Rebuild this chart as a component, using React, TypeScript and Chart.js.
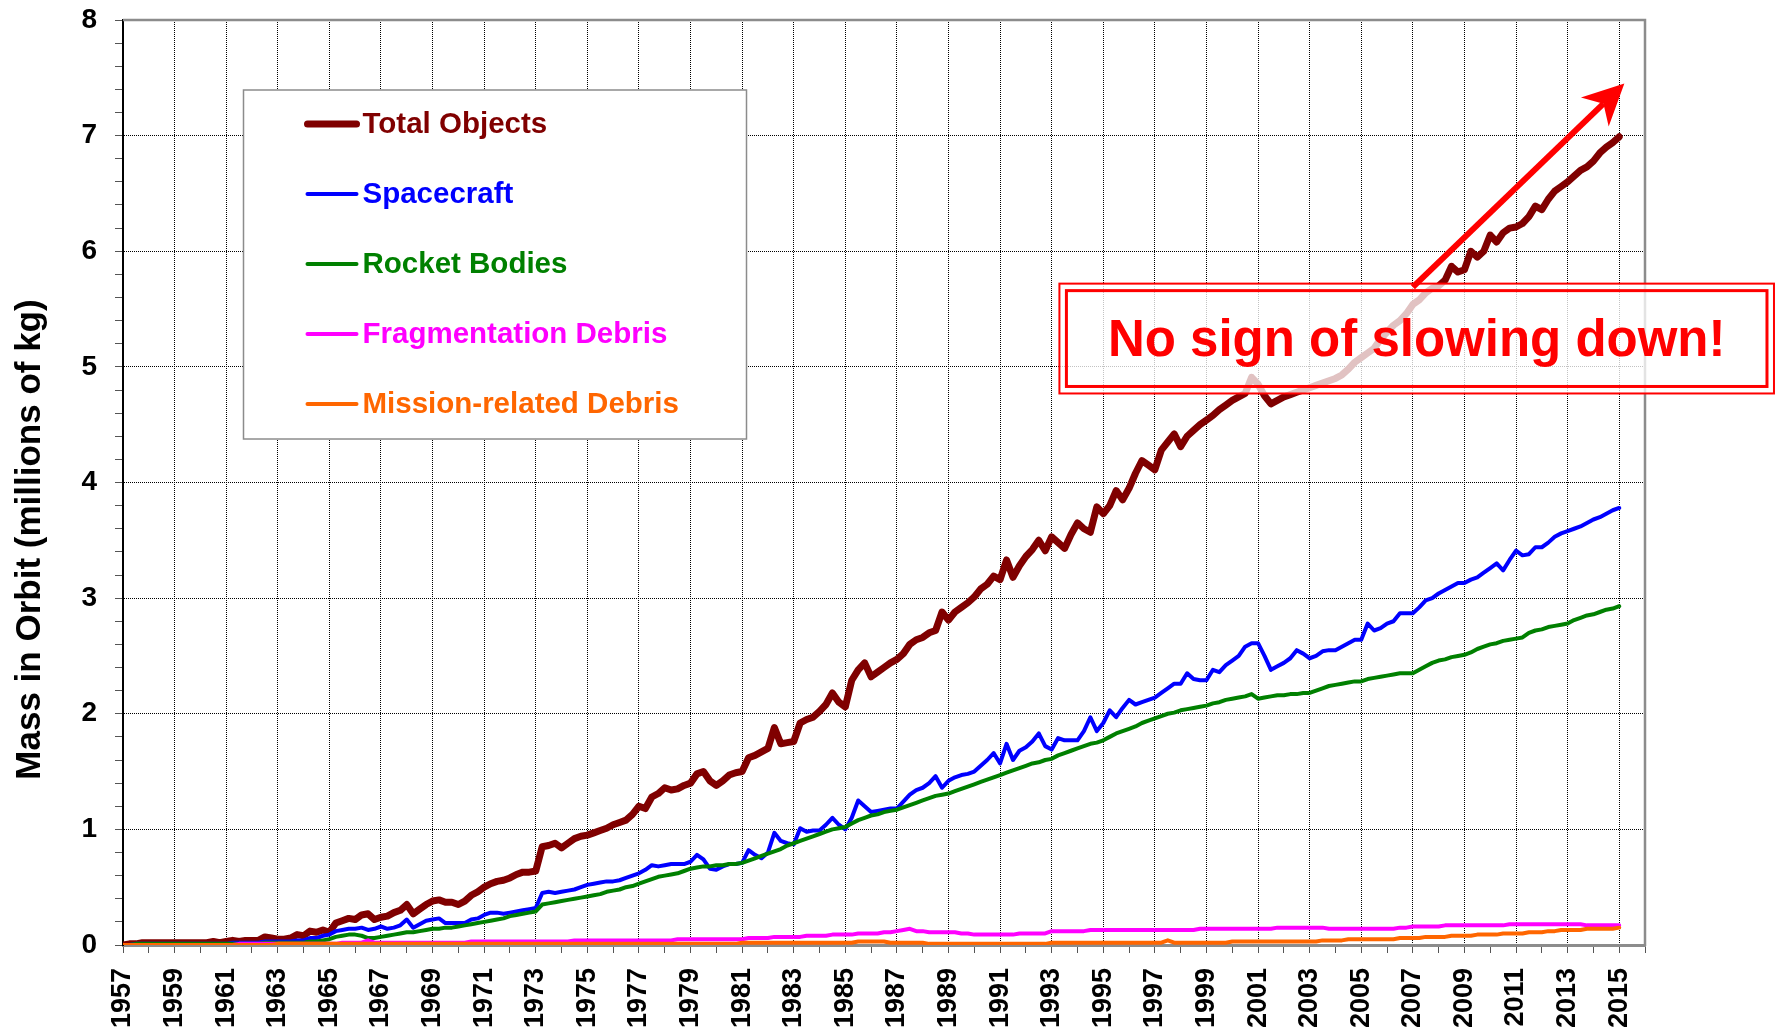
import React, { useEffect, useRef } from 'react';
import { Chart, registerables } from 'chart.js';

Chart.register(...registerables);

const FONT = "'Liberation Sans', Arial, Helvetica, sans-serif";

// Time grid: quarterly samples from 1957.00 to 2015.00
const START_YEAR = 1957;
const SAMPLES_PER_YEAR = 4;
const X_MIN = 1957;
const X_MAX = 2016;
const Y_MIN = 0;
const Y_MAX = 8;

const seriesLabels = ['Total Objects', 'Spacecraft', 'Rocket Bodies', 'Fragmentation Debris', 'Mission-related Debris'];
const seriesColors = ['#800000', '#0000FF', '#008000', '#FF00FF', '#FF6600'];
const seriesWidths = [7, 4, 4, 4, 4];

const yAxisTitle = 'Mass in Orbit (millions of kg)';
const noteText = 'No sign of slowing down!';
// annotation box and arrow, in data units (year, millions of kg)
const noteBox = { xFrom: 1993.3, xTo: 2021.0, yFrom: 4.77, yTo: 5.72 };
const noteArrow = { xFrom: 2007.0, yFrom: 5.69, xTo: 2015.2, yTo: 7.45 };

// millions of kg, quarterly 1957.00 .. 2015.00
const totalObjects = [
  0.00, 0.01, 0.01, 0.02,
  0.02, 0.02, 0.02, 0.02,
  0.02, 0.02, 0.02, 0.02,
  0.02, 0.02, 0.03, 0.02,
  0.03, 0.04, 0.03, 0.04,
  0.04, 0.04, 0.07, 0.06,
  0.05, 0.05, 0.06, 0.09,
  0.08, 0.12, 0.11, 0.13,
  0.11, 0.19, 0.21, 0.23,
  0.22, 0.26, 0.27, 0.22,
  0.24, 0.25, 0.28, 0.30,
  0.35, 0.27, 0.31, 0.35,
  0.38, 0.39, 0.37, 0.37,
  0.35, 0.38, 0.43, 0.46,
  0.50, 0.53, 0.55, 0.56,
  0.58, 0.61, 0.63, 0.63,
  0.64, 0.85, 0.86, 0.88,
  0.84, 0.88, 0.92, 0.94,
  0.95, 0.97, 0.99, 1.01,
  1.04, 1.06, 1.08, 1.13,
  1.20, 1.18, 1.28, 1.31,
  1.36, 1.34, 1.35, 1.38,
  1.40, 1.48, 1.50, 1.42,
  1.38, 1.42, 1.47, 1.49,
  1.50, 1.62, 1.64, 1.67,
  1.70, 1.88, 1.74, 1.75,
  1.76, 1.92, 1.95, 1.97,
  2.02, 2.08, 2.18, 2.10,
  2.06, 2.29, 2.38, 2.44,
  2.32, 2.36, 2.40, 2.44,
  2.47, 2.52, 2.60, 2.64,
  2.66, 2.70, 2.72, 2.88,
  2.81, 2.88, 2.92, 2.96,
  3.01, 3.08, 3.12, 3.19,
  3.16, 3.33, 3.18, 3.28,
  3.36, 3.42, 3.50, 3.41,
  3.53, 3.48, 3.43, 3.55,
  3.65, 3.60, 3.57, 3.79,
  3.73, 3.80, 3.93, 3.85,
  3.95, 4.08, 4.19, 4.15,
  4.11, 4.28, 4.35, 4.42,
  4.31, 4.40, 4.45, 4.50,
  4.54, 4.58, 4.63, 4.67,
  4.71, 4.74, 4.77, 4.91,
  4.85, 4.75, 4.68, 4.71,
  4.74, 4.76, 4.78, 4.80,
  4.82, 4.84, 4.86, 4.88,
  4.90, 4.93, 4.98, 5.04,
  5.08, 5.12, 5.16, 5.24,
  5.30, 5.36, 5.40, 5.46,
  5.54, 5.58, 5.64, 5.68,
  5.70, 5.75, 5.87, 5.82,
  5.84, 6.00, 5.95, 6.00,
  6.14, 6.08, 6.16, 6.20,
  6.21, 6.24, 6.30, 6.39,
  6.36, 6.45, 6.52, 6.56,
  6.60, 6.65, 6.70, 6.73,
  6.78, 6.85, 6.90, 6.94,
  6.99,
];

const spacecraft = [
  0.00, 0.00, 0.01, 0.01,
  0.01, 0.01, 0.01, 0.01,
  0.01, 0.01, 0.01, 0.01,
  0.01, 0.01, 0.01, 0.01,
  0.01, 0.02, 0.02, 0.02,
  0.02, 0.02, 0.03, 0.03,
  0.03, 0.03, 0.03, 0.04,
  0.04, 0.06, 0.06, 0.08,
  0.09, 0.12, 0.13, 0.14,
  0.14, 0.15, 0.13, 0.14,
  0.16, 0.14, 0.15, 0.17,
  0.22, 0.15, 0.18, 0.21,
  0.22, 0.23, 0.19, 0.19,
  0.19, 0.19, 0.22, 0.23,
  0.26, 0.28, 0.28, 0.27,
  0.28, 0.29, 0.30, 0.31,
  0.32, 0.45, 0.46, 0.45,
  0.46, 0.47, 0.48, 0.50,
  0.52, 0.53, 0.54, 0.55,
  0.55, 0.56, 0.58, 0.60,
  0.62, 0.65, 0.69, 0.68,
  0.69, 0.70, 0.70, 0.70,
  0.72, 0.78, 0.74, 0.66,
  0.65, 0.68, 0.70, 0.70,
  0.71, 0.82, 0.78, 0.75,
  0.80, 0.97, 0.90, 0.88,
  0.87, 1.01, 0.98, 0.99,
  0.99, 1.04, 1.10, 1.04,
  1.00, 1.10, 1.25, 1.20,
  1.15, 1.16, 1.17, 1.18,
  1.18, 1.24, 1.30, 1.34,
  1.36, 1.40, 1.46, 1.36,
  1.42, 1.45, 1.47, 1.48,
  1.50, 1.55, 1.60, 1.66,
  1.57, 1.74, 1.60, 1.68,
  1.71, 1.76, 1.83, 1.72,
  1.69, 1.79, 1.77, 1.77,
  1.77, 1.85, 1.97, 1.85,
  1.92, 2.03, 1.97, 2.05,
  2.12, 2.08, 2.10, 2.12,
  2.14, 2.18, 2.22, 2.26,
  2.26, 2.35, 2.30, 2.29,
  2.29, 2.38, 2.36, 2.42,
  2.46, 2.50, 2.58, 2.61,
  2.61, 2.50, 2.38, 2.41,
  2.44, 2.48, 2.55, 2.52,
  2.48, 2.50, 2.54, 2.55,
  2.55, 2.58, 2.61, 2.64,
  2.64, 2.78, 2.72, 2.74,
  2.78, 2.80, 2.87, 2.87,
  2.87, 2.92, 2.98, 3.00,
  3.04, 3.07, 3.10, 3.13,
  3.13, 3.16, 3.18, 3.22,
  3.26, 3.30, 3.24, 3.33,
  3.41, 3.37, 3.38, 3.44,
  3.44, 3.48, 3.53, 3.56,
  3.58, 3.60, 3.62, 3.65,
  3.68, 3.70, 3.73, 3.76,
  3.78,
];

const rocketBodies = [
  0.00, 0.00, 0.01, 0.01,
  0.01, 0.01, 0.01, 0.01,
  0.01, 0.01, 0.01, 0.01,
  0.01, 0.01, 0.01, 0.01,
  0.01, 0.01, 0.01, 0.01,
  0.01, 0.01, 0.02, 0.02,
  0.02, 0.02, 0.02, 0.02,
  0.02, 0.03, 0.03, 0.04,
  0.05, 0.07, 0.08, 0.09,
  0.09, 0.08, 0.06, 0.06,
  0.07, 0.08, 0.09, 0.10,
  0.11, 0.11, 0.12, 0.13,
  0.14, 0.14, 0.15, 0.15,
  0.16, 0.17, 0.18, 0.19,
  0.20, 0.21, 0.22, 0.23,
  0.25, 0.26, 0.27, 0.28,
  0.29, 0.35, 0.36, 0.37,
  0.38, 0.39, 0.40, 0.41,
  0.42, 0.43, 0.44, 0.46,
  0.47, 0.48, 0.50, 0.51,
  0.53, 0.55, 0.57, 0.59,
  0.60, 0.61, 0.62, 0.64,
  0.66, 0.67, 0.68, 0.68,
  0.69, 0.69, 0.70, 0.70,
  0.71, 0.73, 0.75, 0.77,
  0.79, 0.81, 0.83, 0.86,
  0.88, 0.90, 0.92, 0.94,
  0.96, 0.98, 1.00, 1.01,
  1.02, 1.05, 1.08, 1.10,
  1.12, 1.13, 1.15, 1.16,
  1.17, 1.19, 1.21, 1.23,
  1.25, 1.27, 1.29, 1.30,
  1.31, 1.33, 1.35, 1.37,
  1.39, 1.41, 1.43, 1.45,
  1.47, 1.49, 1.51, 1.53,
  1.55, 1.57, 1.58, 1.60,
  1.61, 1.64, 1.66, 1.68,
  1.70, 1.72, 1.74, 1.75,
  1.77, 1.80, 1.83, 1.85,
  1.87, 1.89, 1.92, 1.94,
  1.96, 1.98, 2.00, 2.01,
  2.03, 2.04, 2.05, 2.06,
  2.07, 2.09, 2.10, 2.12,
  2.13, 2.14, 2.15, 2.17,
  2.13, 2.14, 2.15, 2.16,
  2.16, 2.17, 2.17, 2.18,
  2.18, 2.20, 2.22, 2.24,
  2.25, 2.26, 2.27, 2.28,
  2.28, 2.30, 2.31, 2.32,
  2.33, 2.34, 2.35, 2.35,
  2.35, 2.38, 2.41, 2.44,
  2.46, 2.47, 2.49, 2.50,
  2.51, 2.53, 2.56, 2.58,
  2.60, 2.61, 2.63, 2.64,
  2.65, 2.66, 2.70, 2.72,
  2.73, 2.75, 2.76, 2.77,
  2.78, 2.81, 2.83, 2.85,
  2.86, 2.88, 2.90, 2.91,
  2.93,
];

const fragmentationDebris = [
  0.00, 0.00, 0.00, 0.00,
  0.00, 0.00, 0.00, 0.00,
  0.00, 0.00, 0.00, 0.00,
  0.00, 0.00, 0.00, 0.00,
  0.00, 0.00, 0.01, 0.01,
  0.01, 0.01, 0.01, 0.01,
  0.01, 0.01, 0.01, 0.01,
  0.01, 0.01, 0.01, 0.01,
  0.01, 0.01, 0.02, 0.02,
  0.02, 0.02, 0.04, 0.02,
  0.02, 0.02, 0.02, 0.02,
  0.02, 0.02, 0.02, 0.02,
  0.02, 0.02, 0.02, 0.02,
  0.02, 0.02, 0.03, 0.03,
  0.03, 0.03, 0.03, 0.03,
  0.03, 0.03, 0.03, 0.03,
  0.03, 0.03, 0.03, 0.03,
  0.03, 0.03, 0.04, 0.04,
  0.04, 0.04, 0.04, 0.04,
  0.04, 0.04, 0.04, 0.04,
  0.04, 0.04, 0.04, 0.04,
  0.04, 0.04, 0.05, 0.05,
  0.05, 0.05, 0.05, 0.05,
  0.05, 0.05, 0.05, 0.05,
  0.05, 0.06, 0.06, 0.06,
  0.06, 0.07, 0.07, 0.07,
  0.07, 0.07, 0.08, 0.08,
  0.08, 0.08, 0.09, 0.09,
  0.09, 0.09, 0.10, 0.10,
  0.10, 0.10, 0.11, 0.11,
  0.12, 0.13, 0.14, 0.12,
  0.12, 0.11, 0.11, 0.11,
  0.11, 0.11, 0.10, 0.10,
  0.09, 0.09, 0.09, 0.09,
  0.09, 0.09, 0.09, 0.10,
  0.10, 0.10, 0.10, 0.10,
  0.12, 0.12, 0.12, 0.12,
  0.12, 0.12, 0.13, 0.13,
  0.13, 0.13, 0.13, 0.13,
  0.13, 0.13, 0.13, 0.13,
  0.13, 0.13, 0.13, 0.13,
  0.13, 0.13, 0.13, 0.14,
  0.14, 0.14, 0.14, 0.14,
  0.14, 0.14, 0.14, 0.14,
  0.14, 0.14, 0.14, 0.15,
  0.15, 0.15, 0.15, 0.15,
  0.15, 0.15, 0.15, 0.14,
  0.14, 0.14, 0.14, 0.14,
  0.14, 0.14, 0.14, 0.14,
  0.14, 0.14, 0.15, 0.15,
  0.16, 0.16, 0.16, 0.16,
  0.16, 0.17, 0.17, 0.17,
  0.17, 0.17, 0.17, 0.17,
  0.17, 0.17, 0.17, 0.18,
  0.18, 0.18, 0.18, 0.18,
  0.18, 0.18, 0.18, 0.18,
  0.18, 0.18, 0.18, 0.17,
  0.17, 0.17, 0.17, 0.17,
  0.17,
];

const missionDebris = [
  0.00, 0.00, 0.00, 0.00,
  0.00, 0.00, 0.00, 0.00,
  0.00, 0.00, 0.00, 0.00,
  0.00, 0.00, 0.00, 0.00,
  0.00, 0.00, 0.00, 0.00,
  0.00, 0.00, 0.00, 0.00,
  0.01, 0.01, 0.01, 0.01,
  0.01, 0.01, 0.01, 0.01,
  0.01, 0.01, 0.01, 0.01,
  0.01, 0.01, 0.01, 0.01,
  0.01, 0.01, 0.01, 0.01,
  0.01, 0.01, 0.01, 0.01,
  0.01, 0.01, 0.01, 0.01,
  0.01, 0.01, 0.01, 0.01,
  0.01, 0.01, 0.01, 0.01,
  0.01, 0.01, 0.01, 0.01,
  0.01, 0.01, 0.01, 0.01,
  0.01, 0.01, 0.01, 0.01,
  0.01, 0.01, 0.01, 0.01,
  0.01, 0.01, 0.01, 0.01,
  0.01, 0.01, 0.01, 0.01,
  0.01, 0.01, 0.01, 0.01,
  0.01, 0.01, 0.01, 0.01,
  0.01, 0.01, 0.01, 0.01,
  0.02, 0.02, 0.02, 0.02,
  0.02, 0.02, 0.02, 0.02,
  0.02, 0.02, 0.02, 0.02,
  0.02, 0.02, 0.02, 0.02,
  0.02, 0.02, 0.03, 0.03,
  0.03, 0.03, 0.03, 0.02,
  0.02, 0.02, 0.02, 0.02,
  0.02, 0.01, 0.01, 0.01,
  0.01, 0.01, 0.01, 0.01,
  0.01, 0.01, 0.01, 0.01,
  0.01, 0.01, 0.01, 0.01,
  0.01, 0.01, 0.01, 0.01,
  0.02, 0.02, 0.02, 0.02,
  0.02, 0.02, 0.02, 0.02,
  0.02, 0.02, 0.02, 0.02,
  0.02, 0.02, 0.02, 0.02,
  0.02, 0.02, 0.04, 0.02,
  0.02, 0.02, 0.02, 0.02,
  0.02, 0.02, 0.02, 0.02,
  0.03, 0.03, 0.03, 0.03,
  0.03, 0.03, 0.03, 0.03,
  0.03, 0.03, 0.03, 0.03,
  0.03, 0.03, 0.04, 0.04,
  0.04, 0.04, 0.05, 0.05,
  0.05, 0.05, 0.05, 0.05,
  0.05, 0.05, 0.06, 0.06,
  0.06, 0.06, 0.07, 0.07,
  0.07, 0.07, 0.08, 0.08,
  0.08, 0.08, 0.09, 0.09,
  0.09, 0.09, 0.10, 0.10,
  0.10, 0.10, 0.11, 0.11,
  0.11, 0.12, 0.12, 0.13,
  0.13, 0.13, 0.13, 0.14,
  0.14, 0.14, 0.14, 0.14,
  0.15,
];

const seriesValues = [totalObjects, spacecraft, rocketBodies, fragmentationDebris, missionDebris];

const isWhole = (v: number) => Math.abs(v - Math.round(v)) < 1e-6;
const isLabeledYear = (v: number) => isWhole(v) && Math.round(v) % 2 === 1;

const overlayPlugin = {
  id: 'overlay',
  beforeDatasetsDraw(chart: any) {
    const { ctx, chartArea: a } = chart;
    ctx.save();
    ctx.strokeStyle = '#8c8c8c';
    ctx.lineWidth = 2.5;
    ctx.beginPath();
    ctx.moveTo(a.left, a.top);
    ctx.lineTo(a.right, a.top);
    ctx.lineTo(a.right, a.bottom + 1);
    ctx.stroke();
    ctx.restore();
  },
  afterDatasetsDraw(chart: any) {
    const { ctx, chartArea: a, scales } = chart;
    const xs = scales.x;
    const ys = scales.y;

    // ---- annotation box ----
    const bx1 = xs.getPixelForValue(noteBox.xFrom);
    const bx2 = xs.getPixelForValue(noteBox.xTo);
    const by1 = ys.getPixelForValue(noteBox.yTo);
    const by2 = ys.getPixelForValue(noteBox.yFrom);
    ctx.save();
    ctx.fillStyle = 'rgba(255,255,255,0.76)';
    ctx.fillRect(bx1, by1, bx2 - bx1, by2 - by1);
    ctx.strokeStyle = '#FF0000';
    ctx.lineWidth = 2;
    ctx.strokeRect(bx1, by1, bx2 - bx1, by2 - by1);
    ctx.lineWidth = 3;
    ctx.strokeRect(bx1 + 7, by1 + 7, bx2 - bx1 - 14, by2 - by1 - 14);
    ctx.fillStyle = '#FF0000';
    ctx.font = `bold 51px ${FONT}`;
    ctx.textAlign = 'center';
    ctx.textBaseline = 'alphabetic';
    ctx.fillText(noteText, (bx1 + bx2) / 2, (by1 + by2) / 2 + 17);

    // ---- arrow ----
    const sx = xs.getPixelForValue(noteArrow.xFrom);
    const sy = ys.getPixelForValue(noteArrow.yFrom);
    const tx = xs.getPixelForValue(noteArrow.xTo);
    const ty = ys.getPixelForValue(noteArrow.yTo);
    const dx = tx - sx, dy = ty - sy;
    const len = Math.hypot(dx, dy);
    const ux = dx / len, uy = dy / len;
    const nx = -uy, ny = ux;
    const L = 41, W = 20, notch = 12;
    const bxp = tx - ux * L, byp = ty - uy * L;
    const ncx = tx - ux * (L - notch), ncy = ty - uy * (L - notch);
    ctx.strokeStyle = '#FF0000';
    ctx.lineWidth = 6;
    ctx.lineCap = 'butt';
    ctx.beginPath();
    ctx.moveTo(sx, sy);
    ctx.lineTo(ncx, ncy);
    ctx.stroke();
    ctx.beginPath();
    ctx.moveTo(tx, ty);
    ctx.lineTo(bxp + nx * W, byp + ny * W);
    ctx.lineTo(ncx, ncy);
    ctx.lineTo(bxp - nx * W, byp - ny * W);
    ctx.closePath();
    ctx.fill();

    // ---- legend ----
    const lx1 = a.left + 120.5;
    const ly1 = a.top + 70;
    const lx2 = a.left + 623.5;
    const ly2 = a.top + 419;
    ctx.fillStyle = '#FFFFFF';
    ctx.fillRect(lx1, ly1, lx2 - lx1, ly2 - ly1);
    ctx.strokeStyle = '#8c8c8c';
    ctx.lineWidth = 1.5;
    ctx.strokeRect(lx1, ly1, lx2 - lx1, ly2 - ly1);
    ctx.font = `bold 29.5px ${FONT}`;
    ctx.textAlign = 'left';
    ctx.textBaseline = 'middle';
    chart.data.datasets.forEach((ds: any, i: number) => {
      const rowY = ly1 + 34 + i * 70;
      ctx.strokeStyle = ds.borderColor;
      ctx.lineWidth = ds.borderWidth;
      ctx.lineCap = 'round';
      ctx.beginPath();
      ctx.moveTo(lx1 + 64, rowY);
      ctx.lineTo(lx1 + 113, rowY);
      ctx.stroke();
      ctx.fillStyle = ds.borderColor;
      ctx.fillText(ds.label, lx1 + 119, rowY + 1);
    });

    // ---- y axis title ----
    ctx.save();
    ctx.translate(40, (a.top + a.bottom) / 2 + 57);
    ctx.rotate(-Math.PI / 2);
    ctx.fillStyle = '#000';
    ctx.font = `bold 35px ${FONT}`;
    ctx.textAlign = 'center';
    ctx.textBaseline = 'alphabetic';
    ctx.fillText(yAxisTitle, 0, 0);
    ctx.restore();

    ctx.restore();
  },
};

export default function App() {
  const canvasRef = useRef<HTMLCanvasElement | null>(null);

  useEffect(() => {
    const canvas = canvasRef.current;
    if (!canvas) return;
    const datasets = seriesLabels.map((label, s) => ({
      label,
      data: seriesValues[s].map((v, i) => ({ x: START_YEAR + i / SAMPLES_PER_YEAR, y: v })),
      borderColor: seriesColors[s],
      backgroundColor: seriesColors[s],
      borderWidth: seriesWidths[s],
      pointRadius: 0,
      pointHoverRadius: 0,
      fill: false,
      tension: 0,
      borderCapStyle: 'round',
      borderJoinStyle: 'round',
      order: seriesLabels.length - s,
    }));

    const chart = new Chart(canvas, {
      type: 'line',
      data: { datasets },
      plugins: [overlayPlugin],
      options: {
        responsive: false,
        animation: false,
        devicePixelRatio: 1,
        events: [],
        layout: { padding: { left: 0, top: 20, right: 134, bottom: 0 } },
        plugins: {
          legend: { display: false },
          tooltip: { enabled: false },
          title: { display: false },
        },
        scales: {
          x: {
            type: 'linear',
            min: X_MIN,
            max: X_MAX,
            ticks: {
              stepSize: 1,
              maxTicksLimit: 1000,
              autoSkip: false,
              minRotation: 90,
              maxRotation: 90,
              padding: 15,
              color: '#000',
              font: { family: FONT, size: 27, weight: 'bold' },
              callback: (v: any) => (isLabeledYear(Number(v)) ? String(Math.round(Number(v))) : ''),
            },
            grid: {
              color: (c: any) => (c.tick && isLabeledYear(c.tick.value) ? '#000' : 'rgba(0,0,0,0)'),
              lineWidth: 1,
              drawTicks: true,
              tickLength: 8,
              tickColor: '#555',
              tickWidth: 1,
              tickBorderDash: [],
            },
            border: { display: true, color: '#8c8c8c', width: 3, dash: [1, 1] },
            afterFit: (s: any) => {
              s.height = 88;
              s.paddingLeft = 0;
              s.paddingRight = 0;
            },
          },
          y: {
            type: 'linear',
            min: Y_MIN,
            max: Y_MAX,
            ticks: {
              stepSize: 0.2,
              maxTicksLimit: 1000,
              autoSkip: false,
              padding: 18,
              color: '#000',
              font: { family: FONT, size: 28, weight: 'bold' },
              callback: (v: any) => (isWhole(Number(v)) ? String(Math.round(Number(v))) : ''),
            },
            grid: {
              color: (c: any) => (c.tick && isWhole(c.tick.value) ? '#000' : 'rgba(0,0,0,0)'),
              lineWidth: 1,
              drawTicks: true,
              tickLength: 8,
              tickColor: '#555',
              tickWidth: 1,
              tickBorderDash: [],
            },
            border: { display: true, color: '#000', width: 2, dash: [1, 1] },
            afterFit: (s: any) => {
              s.width = 123;
              s.paddingTop = 0;
              s.paddingBottom = 0;
            },
          },
        },
      } as any,
    });
    return () => chart.destroy();
  }, []);

  return (
    <div style={{ position: 'fixed', left: 0, top: 0, width: 1779, height: 1033, background: '#fff', overflow: 'hidden' }}>
      <canvas ref={canvasRef} width={1779} height={1033} style={{ display: 'block', width: 1779, height: 1033 }} />
    </div>
  );
}
